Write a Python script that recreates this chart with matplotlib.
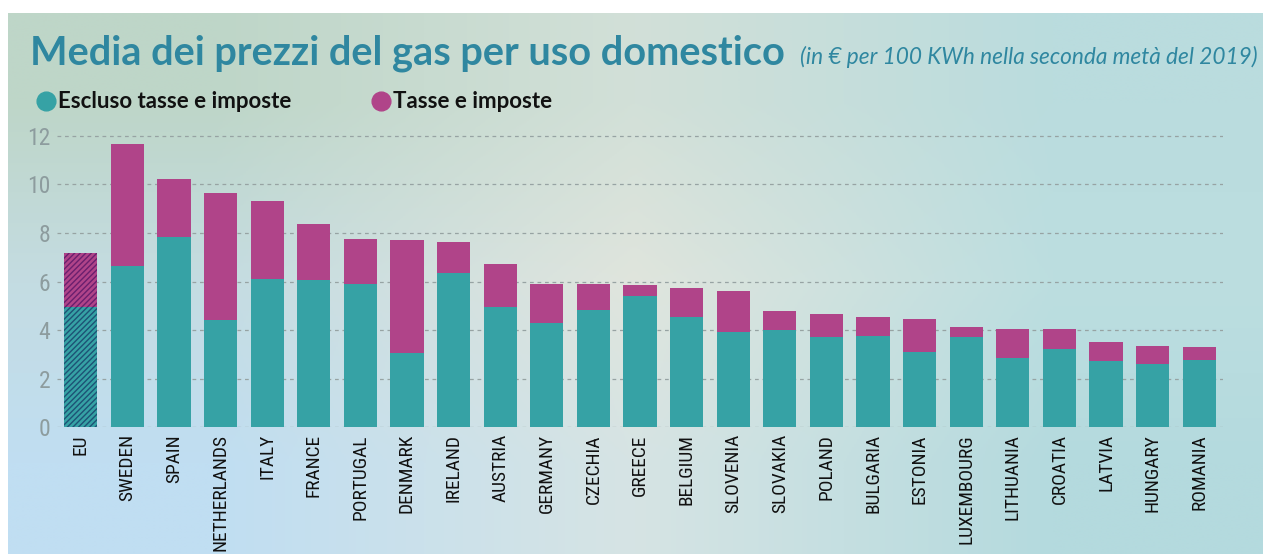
import numpy as np
import matplotlib
matplotlib.use("Agg")
import matplotlib.pyplot as plt
from matplotlib.lines import Line2D
from matplotlib import font_manager

# dati (€ per 100 kWh, seconda metà 2019)
paesi = ["EU", "SWEDEN", "SPAIN", "NETHERLANDS", "ITALY", "FRANCE", "PORTUGAL",
         "DENMARK", "IRELAND", "AUSTRIA", "GERMANY", "CZECHIA", "GREECE", "BELGIUM",
         "SLOVENIA", "SLOVAKIA", "POLAND", "BULGARIA", "ESTONIA", "LUXEMBOURG",
         "LITHUANIA", "CROATIA", "LATVIA", "HUNGARY", "ROMANIA"]
totale = [7.18, 11.66, 10.20, 9.64, 9.33, 8.38, 7.75, 7.69, 7.63, 6.72, 5.88, 5.88,
          5.84, 5.72, 5.60, 4.80, 4.65, 4.53, 4.44, 4.13, 4.05, 4.05, 3.50, 3.33, 3.30]
senza_tasse = [4.94, 6.64, 7.83, 4.42, 6.09, 6.05, 5.90, 3.04, 6.34, 4.94, 4.31, 4.83,
               5.42, 4.54, 3.92, 4.00, 3.73, 3.77, 3.10, 3.70, 2.86, 3.23, 2.72, 2.62, 2.77]
tasse = [t - s for t, s in zip(totale, senza_tasse)]
yticks = [0, 2, 4, 6, 8, 10, 12]

TEAL = "#36a2a5"
MAGENTA = "#b04489"
TITLE_COL = "#2f87a0"

# font stretto per le etichette, se disponibile
installati = {f.name for f in font_manager.fontManager.ttflist}
narrow = "DejaVu Sans"
for nome in ["Roboto Condensed", "Liberation Sans Narrow", "Open Sans Condensed",
             "DejaVu Sans Condensed"]:
    if nome in installati:
        narrow = nome
        break

W, H = 1263, 554
fig = plt.figure(figsize=(W / 100, H / 100), dpi=100)

# sfondo sfumato
bg = fig.add_axes([8 / W, 0, 1 - 8 / W, 1 - 13 / H], zorder=-10)
grad = np.array([
    [[190, 214, 200], [210, 224, 216], [186, 220, 222]],
    [[196, 220, 226], [224, 229, 221], [188, 222, 224]],
    [[192, 222, 242], [214, 228, 228], [180, 218, 222]],
]) / 255.0
bg.imshow(grad, aspect="auto", interpolation="bilinear", extent=[0, 1, 0, 1])
bg.axis("off")

# assi principali
ax = fig.add_axes([57 / W, 1 - 427.3 / H, (1223 - 57) / W, (427.3 - 133.3) / H])
ax.patch.set_alpha(0)
x = np.arange(len(paesi))
w = 0.71

b1 = ax.bar(x, senza_tasse, width=w, color=TEAL, linewidth=0)
b2 = ax.bar(x, tasse, bottom=senza_tasse, width=w, color=MAGENTA, linewidth=0)

# barra EU tratteggiata
plt.rcParams["hatch.linewidth"] = 1.0
b1[0].set_hatch("//////")
b1[0].set_edgecolor("#1d5275")
b2[0].set_hatch("//////")
b2[0].set_edgecolor("#6a1f6e")

ax.set_xlim(-0.51, len(paesi) - 0.49)
ax.set_ylim(0, 12.1)
ax.set_yticks(yticks)
ax.set_axisbelow(True)
ax.grid(axis="y", color="#97a3a3", linestyle=(0, (3, 3)), linewidth=0.9)
for s in ax.spines.values():
    s.set_visible(False)

# misura "NETHERLANDS" per avere circa 118 px di lunghezza
renderer = fig.canvas.get_renderer()
prova = fig.text(0, 0, "NETHERLANDS", family=narrow, fontsize=10)
lung = prova.get_window_extent(renderer).width
prova.remove()
size_x = 10 * 117 / lung

ax.set_xticks(x)
ax.set_xticklabels(paesi, rotation=90, va="top", ha="center",
                   family=narrow, fontsize=size_x, color="#111111")
ax.set_yticklabels([str(v) for v in yticks], family=narrow, fontsize=17,
                   color="#8d9c9e")
ax.tick_params(axis="x", length=0, pad=5)
ax.tick_params(axis="y", length=0, pad=5)

# titolo
fig.text(30 / W, 1 - 64.5 / H, "Media dei prezzi del gas per uso domestico",
         family="Lato", weight="bold", fontsize=28.6, color=TITLE_COL, va="baseline")
fig.text(800 / W, 1 - 64.5 / H, "(in € per 100 KWh nella seconda metà del 2019)",
         family="Lato", style="italic", fontsize=16.3, color=TITLE_COL, va="baseline")

# legenda
for cx, col, lab in [(46, TEAL, "Escluso tasse e imposte"),
                     (381, MAGENTA, "Tasse e imposte")]:
    fig.add_artist(Line2D([cx / W], [1 - 100.5 / H], marker="o", markersize=13.5,
                          color=col, linestyle="none", transform=fig.transFigure))
    fig.text((cx + 12) / W, 1 - 108 / H, lab, family="Lato", weight="bold",
             fontsize=16, color="#111111", va="baseline")

fig.savefig("out.png", dpi=100)
